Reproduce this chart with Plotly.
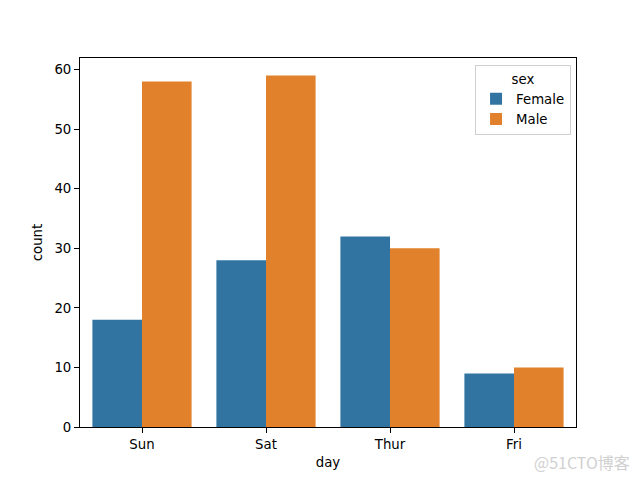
import plotly.graph_objects as go

days = ["Sun", "Sat", "Thur", "Fri"]
female = [18, 28, 32, 9]
male = [58, 59, 30, 10]
series_names = ["Female", "Male"]
colors = ["#3274a1", "#e1812c"]

fig = go.Figure()
for name, vals, c in zip(series_names, [female, male], colors):
    fig.add_trace(go.Bar(x=days, y=vals, name=name, marker=dict(color=c, line=dict(width=0)),
                         width=0.4))

FS = 13.3
fig.update_layout(
    width=640, height=480,
    barmode="group", bargap=0.2, bargroupgap=0,
    plot_bgcolor="white", paper_bgcolor="white",
    font=dict(family="DejaVu Sans", size=FS, color="black"),
    margin=dict(l=72, r=72, t=50, b=61, autoexpand=False),
    xaxis=dict(range=[-0.5, 3.5], showline=True, linecolor="black", linewidth=1, mirror=True,
               ticks="outside", ticklen=5, tickcolor="black", showgrid=False,
               title=dict(text="day", standoff=6, font=dict(size=FS)), tickfont=dict(size=FS)),
    yaxis=dict(range=[0, 61.95], showline=True, linecolor="black", linewidth=1, mirror=True,
               ticks="outside", ticklen=5, tickcolor="black", showgrid=False, zeroline=False,
               tickvals=[0, 10, 20, 30, 40, 50, 60],
               title=dict(text="count", standoff=8, font=dict(size=FS)), tickfont=dict(size=FS)),
    legend=dict(x=0.99, y=0.98, xanchor="right", yanchor="top",
                bgcolor="rgba(255,255,255,0.8)", bordercolor="#d0d0d0", borderwidth=1,
                title=dict(text="sex", side="top center", font=dict(size=FS)), font=dict(size=FS),
                itemwidth=30, tracegroupgap=2),
    annotations=[dict(text="@51CTO博客", x=(624 - 72) / 496, y=(419 - 454) / 369,
                      xref="paper", yref="paper", xanchor="right", yanchor="middle",
                      showarrow=False, font=dict(size=16, color="#d0d0d0", family="Noto Sans CJK SC"))],
)
fig.write_html("out.html")
